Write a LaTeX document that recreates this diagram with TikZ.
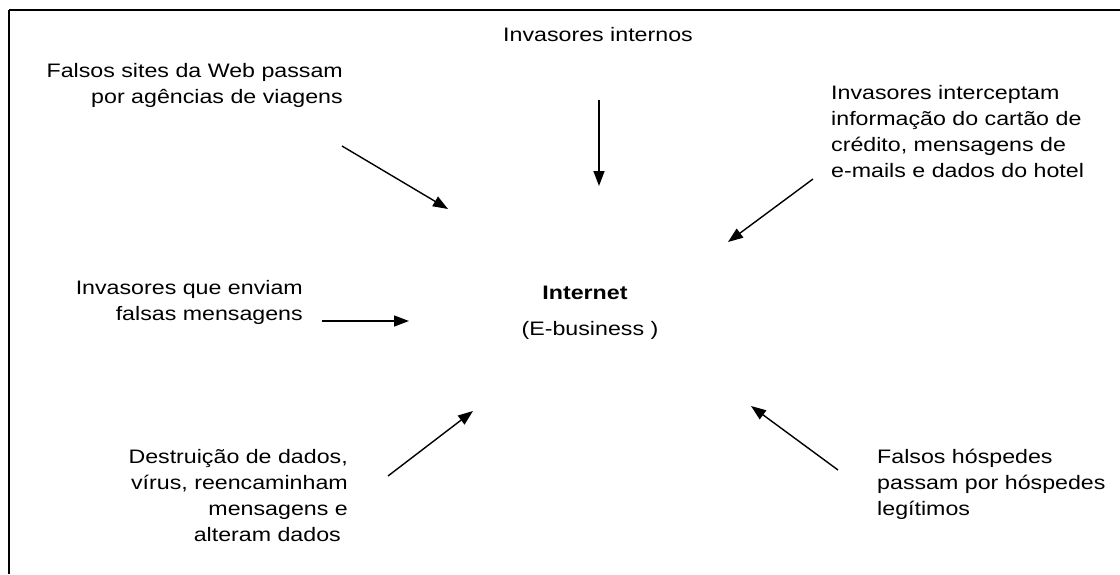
\documentclass[tikz,border=0pt]{standalone}
\usepackage{fontspec}
\setmainfont[FakeStretch=1.19]{Liberation Sans}
\usetikzlibrary{arrows.meta}
\begin{document}
\begin{tikzpicture}[x=1pt,y=-1pt,
  lbl/.style={inner sep=0pt, font=\fontsize{19.5}{26}\selectfont},
  arr/.style={line width=1.4pt, -{Triangle[length=15pt,width=11pt]}}]
\useasboundingbox (0,0) rectangle (1120,574);
% frame
\coordinate (tl) at (9,10);
\coordinate (tr) at (1120,10);
\coordinate (bl) at (9,574);
\draw[line width=2pt] (tl) -- (tr);
\draw[line width=1.5pt] (tl) -- (bl);
% texts
\node[lbl, anchor=base] (intern) at (598,41) {Invasores internos};
\node[lbl, align=right, anchor=north east] (web) at (343,63) {Falsos sites da Web passam\\por agências de viagens};
\node[lbl, align=left, anchor=north west] (cartao) at (831,85) {Invasores interceptam\\informação do cartão de\\crédito, mensagens de\\e-mails e dados do hotel};
\node[lbl, align=right, anchor=north east] (msg) at (303,280) {Invasores que enviam\\falsas mensagens};
\node[lbl, align=right, anchor=north east] (dados) at (348,449) {Destruição de dados,\\vírus, reencaminham\\mensagens e\hspace*{7pt}\\alteram dados\hspace*{7pt}};
\node[lbl, align=left, anchor=north west] (hosp) at (877,449) {Falsos hóspedes\\passam por hóspedes\\legítimos};
\node[lbl, anchor=base, font=\fontsize{19.5}{26}\selectfont\bfseries] (inet) at (585,299) {Internet};
\node[lbl, anchor=base] (ebiz) at (590,335) {(E-business )};
% arrows
\coordinate (a1s) at (342,146); \coordinate (a1e) at (448,209);
\coordinate (a2s) at (599,100); \coordinate (a2e) at (599,186);
\coordinate (a3s) at (813,179); \coordinate (a3e) at (728,242);
\coordinate (a4s) at (322,321); \coordinate (a4e) at (409,321);
\coordinate (a5s) at (388,476); \coordinate (a5e) at (473,411);
\coordinate (a6s) at (838,470); \coordinate (a6e) at (751,406);
\draw[arr] (a1s) -- (a1e);
\draw[arr] (a2s) -- (a2e);
\draw[arr] (a3s) -- (a3e);
\draw[arr] (a4s) -- (a4e);
\draw[arr] (a5s) -- (a5e);
\draw[arr] (a6s) -- (a6e);
\end{tikzpicture}
\end{document}
